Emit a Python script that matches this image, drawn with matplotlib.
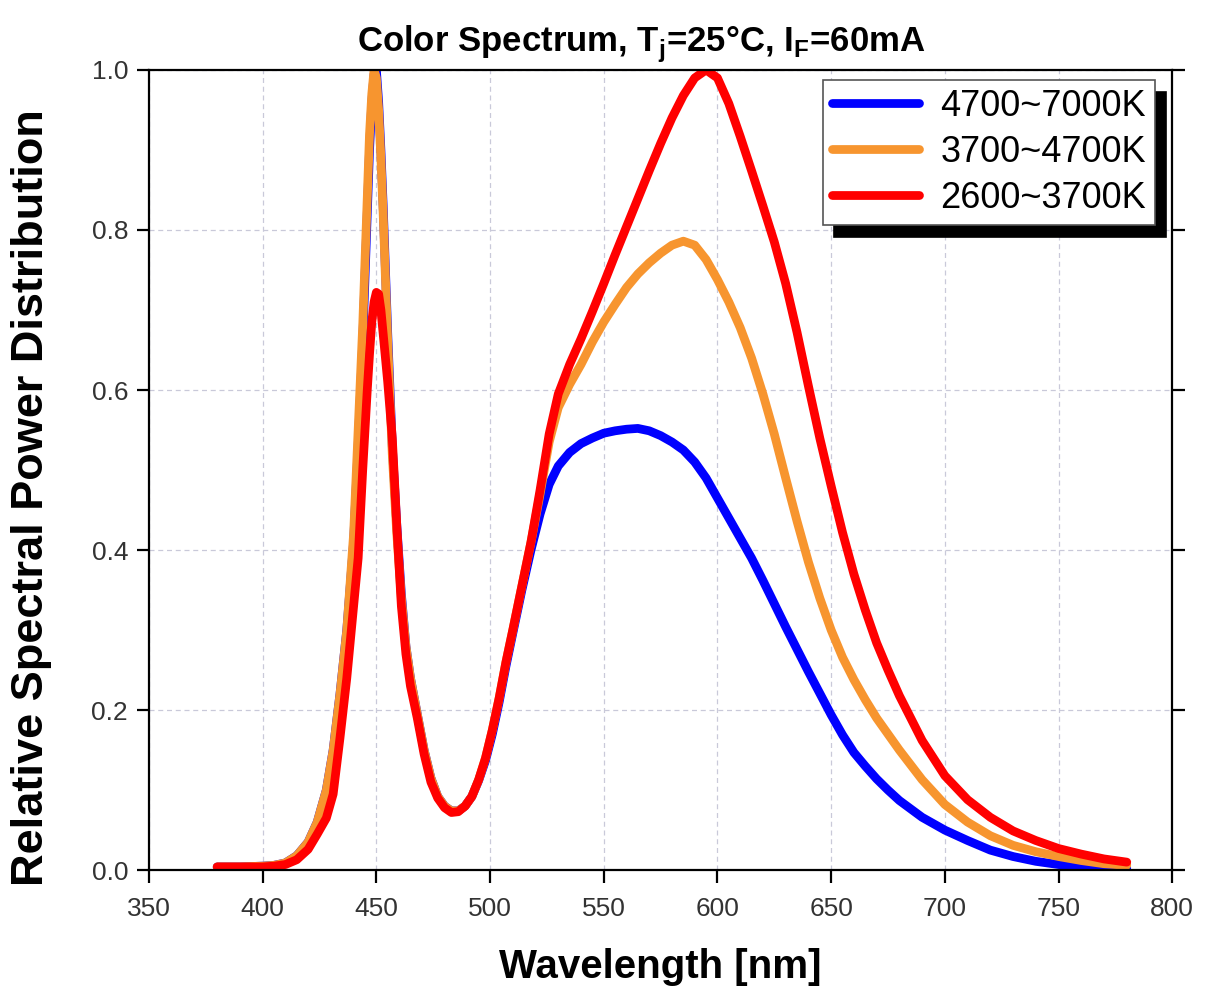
import matplotlib
matplotlib.use("Agg")
import matplotlib.pyplot as plt

# wavelength grid (nm) shared by the three spectra
wavelength = [380, 390, 400, 405, 410, 415, 420, 424, 428, 431, 434, 437, 440, 442, 444,
              446, 447, 448, 449, 450, 451, 452, 453, 455, 457, 459, 461, 463, 465, 468,
              471, 474, 477, 480, 483, 486, 489, 492, 495, 498, 501, 504, 507, 510, 514,
              518, 522, 526, 530, 535, 540, 545, 550, 555, 560, 565, 570, 575, 580, 585,
              590, 595, 600, 605, 610, 615, 620, 625, 630, 635, 640, 645, 650, 655, 660,
              665, 670, 675, 680, 690, 700, 710, 720, 730, 740, 750, 760, 770, 780]

# 4700~7000K
spd_cool = [0.004, 0.004, 0.005, 0.006, 0.009, 0.018, 0.035, 0.06, 0.10, 0.15, 0.22, 0.30, 0.41, 0.53, 0.66,
            0.82, 0.90, 0.96, 0.995, 1.0, 0.96, 0.90, 0.83, 0.67, 0.53, 0.43, 0.345, 0.28, 0.24, 0.195,
            0.15, 0.115, 0.092, 0.08, 0.074, 0.074, 0.08, 0.092, 0.112, 0.137, 0.17, 0.21, 0.255, 0.296, 0.35,
            0.40, 0.445, 0.482, 0.505, 0.522, 0.533, 0.54, 0.546, 0.549, 0.551, 0.552, 0.549, 0.543, 0.535, 0.525,
            0.51, 0.49, 0.465, 0.44, 0.415, 0.39, 0.362, 0.333, 0.304, 0.276, 0.248, 0.221, 0.194, 0.169, 0.147,
            0.13, 0.114, 0.1, 0.087, 0.066, 0.05, 0.037, 0.025, 0.017, 0.011, 0.007, 0.004, 0.003, 0.002]

# 3700~4700K
spd_neutral = [0.004, 0.004, 0.005, 0.006, 0.009, 0.018, 0.035, 0.06, 0.10, 0.15, 0.22, 0.30, 0.42, 0.55, 0.68,
               0.84, 0.92, 0.97, 1.0, 0.99, 0.95, 0.89, 0.82, 0.66, 0.52, 0.42, 0.34, 0.28, 0.24, 0.195,
               0.15, 0.115, 0.092, 0.08, 0.074, 0.074, 0.08, 0.092, 0.113, 0.14, 0.175, 0.215, 0.26, 0.30, 0.355,
               0.41, 0.47, 0.535, 0.578, 0.607, 0.632, 0.66, 0.685, 0.707, 0.728, 0.745, 0.759, 0.771, 0.781, 0.786,
               0.781, 0.763, 0.738, 0.71, 0.678, 0.64, 0.595, 0.545, 0.49, 0.436, 0.385, 0.34, 0.3, 0.266, 0.238,
               0.213, 0.19, 0.17, 0.15, 0.113, 0.082, 0.06, 0.043, 0.031, 0.023, 0.017, 0.012, 0.008, 0.006]

# 2600~3700K
spd_warm = [0.004, 0.004, 0.004, 0.005, 0.007, 0.013, 0.026, 0.045, 0.065, 0.095, 0.165, 0.24, 0.33, 0.39, 0.50,
            0.60, 0.645, 0.685, 0.71, 0.722, 0.72, 0.70, 0.67, 0.61, 0.54, 0.43, 0.33, 0.27, 0.23, 0.19,
            0.145, 0.11, 0.09, 0.078, 0.072, 0.073, 0.08, 0.092, 0.113, 0.14, 0.175, 0.215, 0.26, 0.30, 0.355,
            0.41, 0.475, 0.545, 0.595, 0.632, 0.664, 0.698, 0.733, 0.769, 0.804, 0.839, 0.874, 0.908, 0.94, 0.968,
            0.99, 1.0, 0.99, 0.958, 0.917, 0.874, 0.83, 0.785, 0.733, 0.672, 0.605, 0.54, 0.48, 0.422, 0.37,
            0.325, 0.284, 0.25, 0.218, 0.162, 0.118, 0.088, 0.066, 0.049, 0.037, 0.027, 0.020, 0.014, 0.010]

labels = ["4700~7000K", "3700~4700K", "2600~3700K"]
colors = ["#0000ff", "#f7952f", "#ff0000"]

plt.rcParams['font.family'] = ['Liberation Sans', 'DejaVu Sans']

fig = plt.figure(figsize=(12.11, 9.99), dpi=100)
ax = fig.add_axes([0.123, 0.129, 0.845, 0.801])

for spd, lab, col in zip([spd_cool, spd_neutral, spd_warm], labels, colors):
    ax.plot(wavelength, spd, color=col, lw=6.3, label=lab,
            solid_capstyle='round', solid_joinstyle='round')

ax.set_xlim(350, 800)
ax.set_ylim(0, 1.0)
ax.set_xticks(range(350, 801, 50))
ax.set_yticks([0.0, 0.2, 0.4, 0.6, 0.8, 1.0])
ax.set_yticklabels(["0.0", "0.2", "0.4", "0.6", "0.8", "1.0"])
ax.grid(True, color='#c9c9d9', lw=0.9, ls=(0, (4, 3)))
ax.set_axisbelow(True)

for s in ax.spines.values():
    s.set_linewidth(1.6)
ax.tick_params(axis='both', direction='out', length=9, width=1.6, labelsize=19,
               labelcolor='#333333', pad=6)
ax.tick_params(axis='y', right=True, which='both')
ax.tick_params(axis='x', pad=10)

ax.set_xlabel("Wavelength [nm]", fontsize=29, fontweight='bold', labelpad=20)
ax.set_ylabel("Relative Spectral Power Distribution", fontsize=32.5, fontweight='bold')
ax.yaxis.set_label_coords(-0.095, 0.466)
ax.set_title(r"Color Spectrum, T$_\mathregular{j}$=25°C, I$_\mathregular{F}$=60mA",
             fontsize=25, fontweight='bold', pad=13, x=0.481)

leg = ax.legend(loc='upper right', bbox_to_anchor=(0.9834, 0.9875), borderaxespad=0,
                fontsize=26, handlelength=2.4, labelspacing=0.3, handletextpad=0.6,
                borderpad=0.25, fancybox=False, framealpha=1, edgecolor='#555555',
                shadow={'ox': 8, 'oy': -9, 'color': 'black', 'alpha': 1})
leg.get_frame().set_linewidth(1.2)

fig.savefig("out.png", dpi=100)
